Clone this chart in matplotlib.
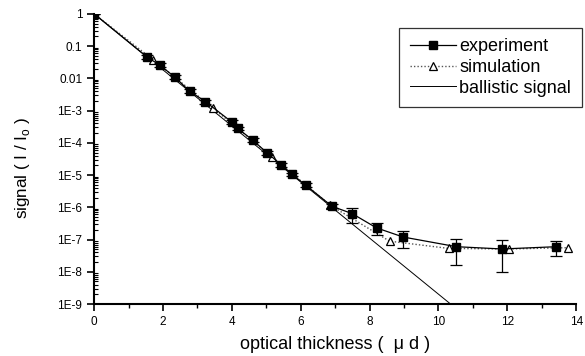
import numpy as np
import matplotlib
matplotlib.use("Agg")
import matplotlib.pyplot as plt
from matplotlib.ticker import LogLocator, NullFormatter, FixedLocator

plt.rcParams["font.family"] = ["Liberation Sans", "DejaVu Sans"]

# experiment (filled squares)
exp_x = [0.0, 1.53, 1.90, 2.34, 2.77, 3.23, 4.00, 4.17, 4.61, 5.02,
         5.43, 5.75, 6.15, 6.91, 7.49, 8.20, 8.97, 10.52, 11.85, 13.42]
exp_y = [1.0, 0.046, 0.026, 0.011, 0.0040, 0.0019, 4.4e-4, 2.8e-4, 1.2e-4, 4.9e-5,
         2.1e-5, 1.05e-5, 4.8e-6, 1.07e-6, 6.4e-7, 2.3e-7, 1.2e-7, 6.0e-8, 5.1e-8, 6.0e-8]
exp_hi = [1.0, 0.053, 0.030, 0.0127, 0.0046, 0.0022, 5.1e-4, 3.2e-4, 1.38e-4, 5.6e-5,
          2.4e-5, 1.2e-5, 5.5e-6, 1.25e-6, 9.5e-7, 3.3e-7, 1.9e-7, 1.05e-7, 9.5e-8, 8.9e-8]
exp_lo = [1.0, 0.040, 0.0226, 0.0096, 0.0035, 0.00165, 3.8e-4, 2.45e-4, 1.04e-4, 4.25e-5,
          1.83e-5, 9.1e-6, 4.2e-6, 0.92e-6, 3.2e-7, 1.35e-7, 5.6e-8, 1.6e-8, 1.0e-8, 3.1e-8]

# simulation (open triangles)
sim_x = [0.0, 1.71, 3.45, 5.17, 6.86, 8.58, 10.30, 12.05, 13.77]
sim_y = [1.0, 0.038, 0.0012, 3.6e-5, 1.15e-6, 8.9e-8, 5.3e-8, 5.1e-8, 5.6e-8]

# ballistic signal (straight line on log scale)
bal_x = [0.0, 10.35]
bal_y = [1.0, 1e-9]

fig = plt.figure(figsize=(5.85, 3.56), dpi=100)
ax = fig.add_axes([0.161, 0.146, 0.824, 0.815])

exp_y_arr = np.array(exp_y)
yerr = [exp_y_arr - np.array(exp_lo), np.array(exp_hi) - exp_y_arr]

ax.plot(bal_x, bal_y, color="black", linewidth=0.7, label="ballistic signal", zorder=2)
ax.plot(sim_x, sim_y, color="#555555", linestyle=(0, (1, 1.5)), linewidth=1.0,
        marker="^", markersize=6, markerfacecolor="white", markeredgecolor="black",
        markeredgewidth=0.9, label="simulation", zorder=3)
ax.errorbar(exp_x, exp_y, yerr=yerr, fmt="none", ecolor="black", elinewidth=0.9,
            capsize=4, capthick=0.9, zorder=4)
ax.plot(exp_x, exp_y, color="black", linewidth=0.9, marker="s", markersize=6,
        markerfacecolor="black", markeredgecolor="black", label="experiment", zorder=5)

ax.set_yscale("log")
ax.set_xlim(0, 14)
ax.set_ylim(1e-9, 1)

ax.xaxis.set_major_locator(FixedLocator([0, 2, 4, 6, 8, 10, 12, 14]))
ax.xaxis.set_minor_locator(FixedLocator([1, 3, 5, 7, 9, 11, 13]))

ytick_vals = [1e-9, 1e-8, 1e-7, 1e-6, 1e-5, 1e-4, 1e-3, 0.01, 0.1, 1]
ytick_labels = ["1E-9", "1E-8", "1E-7", "1E-6", "1E-5", "1E-4", "1E-3", "0.01", "0.1", "1"]
ax.set_yticks(ytick_vals)
ax.set_yticklabels(ytick_labels)
ax.yaxis.set_minor_locator(LogLocator(base=10, subs=np.arange(2, 10), numticks=20))
ax.yaxis.set_minor_formatter(NullFormatter())

ax.spines["top"].set_visible(False)
ax.spines["right"].set_visible(False)
ax.spines["left"].set_linewidth(1.5)
ax.spines["bottom"].set_linewidth(1.5)

ax.tick_params(axis="x", which="major", direction="out", length=5, width=1.2, labelsize=8.5)
ax.tick_params(axis="x", which="minor", direction="out", length=3, width=1.0)
ax.tick_params(axis="y", which="major", direction="out", length=5, width=1.2, labelsize=8.5)
ax.tick_params(axis="y", which="minor", direction="in", length=3, width=0.8)

ax.set_xlabel("optical thickness (  \u03bc d )", fontsize=13, labelpad=6)
ax.set_ylabel("signal ( I / I$_\\mathregular{o}$ )", fontsize=12.3, labelpad=18,
              y=0.469, ha="center")

handles, labels = ax.get_legend_handles_labels()
order = [labels.index("experiment"), labels.index("simulation"), labels.index("ballistic signal")]
leg = ax.legend([handles[i] for i in order], [labels[i] for i in order],
                loc="upper right", bbox_to_anchor=(1.012, 0.953), borderaxespad=0,
                fontsize=13, frameon=True, fancybox=False, handlelength=2.55,
                handletextpad=0.2, labelspacing=0.2, borderpad=0.6)
leg.get_frame().set_edgecolor("black")
leg.get_frame().set_linewidth(0.9)

fig.savefig("out.png", dpi=100)
